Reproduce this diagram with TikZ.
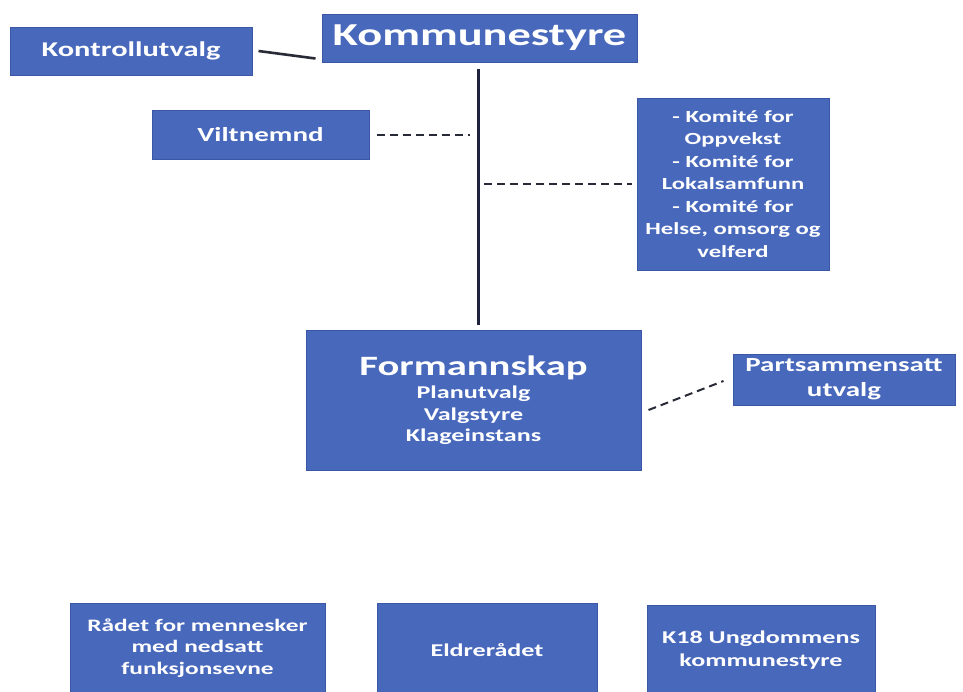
\documentclass[tikz,border=0pt]{standalone}
\usepackage{fontspec}
\usetikzlibrary{calc}
\newfontfamily\bx[FakeStretch=1.45]{Carlito}
\definecolor{boxblue}{RGB}{72,104,188}
\definecolor{boxedge}{RGB}{58,88,165}
\definecolor{linegray}{RGB}{40,42,55}
\definecolor{spinecol}{RGB}{30,34,60}
\newcommand{\fsz}[2]{\bx\bfseries\fontsize{#1}{#2}\selectfont}
\begin{document}
\begin{tikzpicture}[x=1pt,y=-1pt,
  box/.style={fill=boxblue,draw=boxedge,line width=1pt,text=white,inner sep=0pt,align=center},
  solidline/.style={draw=linegray,line width=2.6pt},
  spineline/.style={draw=spinecol,line width=3pt},
  dashline/.style={draw=linegray,line width=2pt,dash pattern=on 8pt off 5pt}]
\useasboundingbox (0,0) rectangle (963,691);
\fill[white] (0,0) rectangle (963,691);
\clip (0,0) rectangle (963,691);

\node[box,minimum width=315pt,minimum height=48pt,font=\fsz{32}{36}] (kommune) at (479.5,38)
  {Kommunestyre};
\node[box,minimum width=242pt,minimum height=48pt,font=\fsz{21}{24}] (kontroll) at (131,51)
  {Kontrollutvalg};
\node[box,minimum width=217pt,minimum height=49pt,font=\fsz{20}{24}] (vilt) at (260.5,134.5)
  {Viltnemnd};
\node[box,minimum width=192pt,minimum height=172pt,font=\fsz{17}{22.5}] (komite) at (733,184)
  {- Komité for\\Oppvekst\\- Komité for\\Lokalsamfunn\\- Komité for\\Helse, omsorg og\\velferd};
\node[box,minimum width=335pt,minimum height=140pt,font=\fsz{18}{21.5}] (formann) at (473.5,400)
  {{\fsz{28}{30}Formannskap}\\[2pt]Planutvalg\\Valgstyre\\Klageinstans};
\node[box,minimum width=222pt,minimum height=51pt,font=\fsz{20}{25}] (parts) at (844,379.5)
  {Partsammensatt\\utvalg};
\node[box,minimum width=255pt,minimum height=90pt,font=\fsz{17.5}{21.5}] (raad) at (197.5,648)
  {Rådet for mennesker\\med nedsatt\\funksjonsevne};
\node[box,minimum width=220pt,minimum height=94pt,font=\fsz{18}{22}] (eldre) at (487,650)
  {Eldrerådet};
\node[box,minimum width=228pt,minimum height=91pt,font=\fsz{18}{23}] (k18) at (761,650.5)
  {K18 Ungdommens\\kommunestyre};

\coordinate (sp1) at ($(kommune.south)+(-1.5,6)$);
\coordinate (sp2) at ($(formann.north)+(4.5,-5)$);
\draw[spineline] (sp1) -- (sp2);
\draw[solidline] ($(kontroll.east)+(6,0)$) -- ($(kommune.south west)+(-6,-4)$);
\draw[dashline] ($(vilt.east)+(7,0)$) -- ($(vilt.east -| sp1)+(-8,0)$);
\draw[dashline] ($(komite.west -| sp1)+(6,0)$) -- ($(komite.west)+(-5,0)$);
\draw[dashline] ($(formann.east)+(7,10)$) -- ($(parts.west)+(-9,1.5)$);
\end{tikzpicture}
\end{document}
